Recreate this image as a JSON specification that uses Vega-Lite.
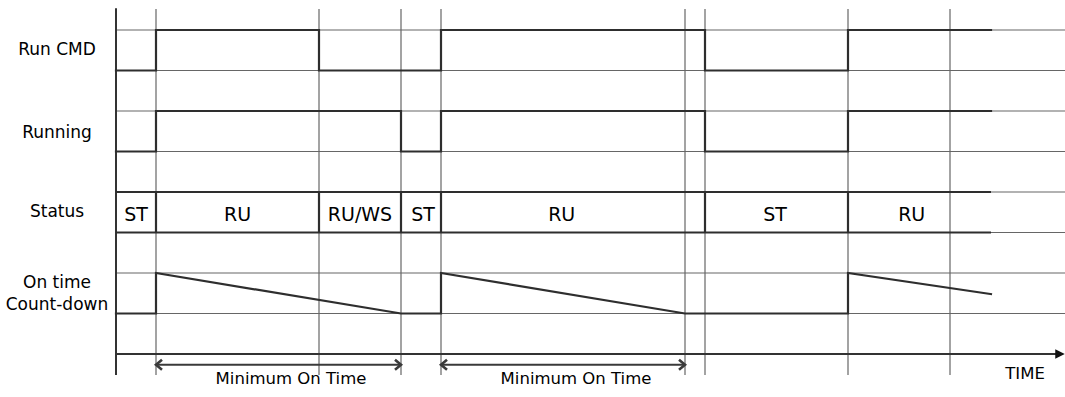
{
  "$schema": "https://vega.github.io/schema/vega-lite/v6.json",
  "width": 1065,
  "height": 397,
  "padding": 0,
  "autosize": "none",
  "background": "white",
  "config": {"view": {"stroke": null}, "font": "DejaVu Sans"},
  "datasets": {
    "gridV": [{"v": 1}, {"v": 2}, {"v": 3}, {"v": 4}, {"v": 5}, {"v": 6}, {"v": 7}, {"v": 8}],
    "gridT": [{"t": 40}, {"t": 203}, {"t": 285}, {"t": 325}, {"t": 569}, {"t": 589}, {"t": 732}, {"t": 834}],
    "axes": [
      {"axis": "value", "t0": 0, "t1": 0, "v0": -0.52, "v1": 8.54},
      {"axis": "time", "t0": 0, "t1": 941, "v0": 0, "v1": 0}
    ],
    "timeAxis": [{"label": "TIME", "head": 944, "v": 0, "labelT": 909, "labelV": -0.62}],
    "signals": [
      {"sig": "Run CMD", "i": 0, "t": 0, "v": 7},
      {"sig": "Run CMD", "i": 1, "t": 40, "v": 7},
      {"sig": "Run CMD", "i": 2, "t": 40, "v": 8},
      {"sig": "Run CMD", "i": 3, "t": 203, "v": 8},
      {"sig": "Run CMD", "i": 4, "t": 203, "v": 7},
      {"sig": "Run CMD", "i": 5, "t": 325, "v": 7},
      {"sig": "Run CMD", "i": 6, "t": 325, "v": 8},
      {"sig": "Run CMD", "i": 7, "t": 589, "v": 8},
      {"sig": "Run CMD", "i": 8, "t": 589, "v": 7},
      {"sig": "Run CMD", "i": 9, "t": 732, "v": 7},
      {"sig": "Run CMD", "i": 10, "t": 732, "v": 8},
      {"sig": "Run CMD", "i": 11, "t": 875, "v": 8},
      {"sig": "Running", "i": 0, "t": 0, "v": 5},
      {"sig": "Running", "i": 1, "t": 40, "v": 5},
      {"sig": "Running", "i": 2, "t": 40, "v": 6},
      {"sig": "Running", "i": 3, "t": 285, "v": 6},
      {"sig": "Running", "i": 4, "t": 285, "v": 5},
      {"sig": "Running", "i": 5, "t": 325, "v": 5},
      {"sig": "Running", "i": 6, "t": 325, "v": 6},
      {"sig": "Running", "i": 7, "t": 589, "v": 6},
      {"sig": "Running", "i": 8, "t": 589, "v": 5},
      {"sig": "Running", "i": 9, "t": 732, "v": 5},
      {"sig": "Running", "i": 10, "t": 732, "v": 6},
      {"sig": "Running", "i": 11, "t": 875, "v": 6},
      {"sig": "Count-down", "i": 0, "t": 0, "v": 1},
      {"sig": "Count-down", "i": 1, "t": 40, "v": 1},
      {"sig": "Count-down", "i": 2, "t": 40, "v": 2},
      {"sig": "Count-down", "i": 3, "t": 285, "v": 1},
      {"sig": "Count-down", "i": 4, "t": 325, "v": 1},
      {"sig": "Count-down", "i": 5, "t": 325, "v": 2},
      {"sig": "Count-down", "i": 6, "t": 569, "v": 1},
      {"sig": "Count-down", "i": 7, "t": 732, "v": 1},
      {"sig": "Count-down", "i": 8, "t": 732, "v": 2},
      {"sig": "Count-down", "i": 9, "t": 875, "v": 1.48}
    ],
    "status": [
      {"label": "ST", "start": 0, "end": 40, "at": 20},
      {"label": "RU", "start": 40, "end": 203, "at": 121.5},
      {"label": "RU/WS", "start": 203, "end": 285, "at": 244},
      {"label": "ST", "start": 285, "end": 325, "at": 307},
      {"label": "RU", "start": 325, "end": 589, "at": 445.7},
      {"label": "ST", "start": 589, "end": 732, "at": 659},
      {"label": "RU", "start": 732, "end": 875, "at": 795.7}
    ],
    "rows": [
      {"label": "Run CMD", "v": 7.38},
      {"label": "Running", "v": 5.34},
      {"label": "Status", "v": 3.39},
      {"label": "On time", "v": 1.62},
      {"label": "Count-down", "v": 1.09}
    ],
    "spans": [
      {"label": "Minimum On Time", "start": 40, "end": 285, "at": 175},
      {"label": "Minimum On Time", "start": 325, "end": 569, "at": 460}
    ]
  },
  "layer": [
    {
      "data": {"name": "gridV"},
      "mark": {"type": "rule", "stroke": "#666666", "strokeWidth": 1.2},
      "encoding": {
        "y": {"field": "v", "type": "quantitative", "scale": {"domain": [-1.062, 8.741], "nice": false, "zero": false}, "axis": null},
        "x": {"datum": 0, "type": "quantitative", "scale": {"domain": [-116, 949], "nice": false, "zero": false}, "axis": null},
        "x2": {"datum": 949}
      }
    },
    {
      "data": {"name": "gridT"},
      "mark": {"type": "rule", "stroke": "#666666", "strokeWidth": 1.2},
      "encoding": {
        "x": {"field": "t", "type": "quantitative"},
        "y": {"datum": 8.519, "type": "quantitative"},
        "y2": {"datum": -0.519}
      }
    },
    {
      "data": {"name": "axes"},
      "mark": {"type": "rule", "stroke": "#333333", "strokeWidth": 2},
      "encoding": {
        "x": {"field": "t0", "type": "quantitative"},
        "x2": {"field": "t1"},
        "y": {"field": "v0", "type": "quantitative"},
        "y2": {"field": "v1"}
      }
    },
    {
      "data": {"name": "timeAxis"},
      "mark": {"type": "point", "shape": "M-1,-1L1,0L-1,1Z", "filled": true, "color": "#111111", "size": 90, "opacity": 1},
      "encoding": {
        "x": {"field": "head", "type": "quantitative"},
        "y": {"field": "v", "type": "quantitative"}
      }
    },
    {
      "data": {"name": "timeAxis"},
      "mark": {"type": "text", "fontSize": 16.5, "align": "center", "baseline": "alphabetic", "color": "#000000"},
      "encoding": {
        "x": {"field": "labelT", "type": "quantitative"},
        "y": {"field": "labelV", "type": "quantitative"},
        "text": {"field": "label"}
      }
    },
    {
      "data": {"name": "status"},
      "mark": {"type": "rule", "stroke": "#2e2e2e", "strokeWidth": 2.2},
      "encoding": {
        "x": {"field": "start", "type": "quantitative"},
        "x2": {"field": "end"},
        "y": {"datum": 4, "type": "quantitative"}
      }
    },
    {
      "data": {"name": "status"},
      "mark": {"type": "rule", "stroke": "#2e2e2e", "strokeWidth": 2.2},
      "encoding": {
        "x": {"field": "start", "type": "quantitative"},
        "x2": {"field": "end"},
        "y": {"datum": 3, "type": "quantitative"}
      }
    },
    {
      "data": {"name": "status"},
      "transform": [{"filter": "datum.start > 0"}],
      "mark": {"type": "rule", "stroke": "#2e2e2e", "strokeWidth": 2.2},
      "encoding": {
        "x": {"field": "start", "type": "quantitative"},
        "y": {"datum": 3, "type": "quantitative"},
        "y2": {"datum": 4}
      }
    },
    {
      "data": {"name": "status"},
      "mark": {"type": "text", "fontSize": 19, "align": "center", "baseline": "alphabetic", "color": "#000000"},
      "encoding": {
        "x": {"field": "at", "type": "quantitative"},
        "y": {"datum": 3.29, "type": "quantitative"},
        "text": {"field": "label"}
      }
    },
    {
      "data": {"name": "signals"},
      "mark": {"type": "line", "stroke": "#2e2e2e", "strokeWidth": 2.2, "strokeCap": "square"},
      "encoding": {
        "x": {"field": "t", "type": "quantitative"},
        "y": {"field": "v", "type": "quantitative"},
        "detail": {"field": "sig"},
        "order": {"field": "i", "type": "quantitative"}
      }
    },
    {
      "data": {"name": "rows"},
      "mark": {"type": "text", "fontSize": 17, "align": "center", "baseline": "alphabetic", "color": "#000000"},
      "encoding": {
        "x": {"datum": -59, "type": "quantitative"},
        "y": {"field": "v", "type": "quantitative"},
        "text": {"field": "label"}
      }
    },
    {
      "data": {"name": "spans"},
      "mark": {"type": "rule", "stroke": "#3a3a3a", "strokeWidth": 2},
      "encoding": {
        "x": {"field": "start", "type": "quantitative"},
        "x2": {"field": "end"},
        "y": {"datum": -0.264, "type": "quantitative"}
      }
    },
    {
      "data": {"name": "spans"},
      "mark": {"type": "point", "shape": "M1.2,-1L0,0L1.2,1", "filled": false, "stroke": "#3a3a3a", "strokeWidth": 2.6, "size": 100, "opacity": 1},
      "encoding": {
        "x": {"field": "start", "type": "quantitative"},
        "y": {"datum": -0.264, "type": "quantitative"}
      }
    },
    {
      "data": {"name": "spans"},
      "mark": {"type": "point", "shape": "M-1.2,-1L0,0L-1.2,1", "filled": false, "stroke": "#3a3a3a", "strokeWidth": 2.6, "size": 100, "opacity": 1},
      "encoding": {
        "x": {"field": "end", "type": "quantitative"},
        "y": {"datum": -0.264, "type": "quantitative"}
      }
    },
    {
      "data": {"name": "spans"},
      "mark": {"type": "text", "fontSize": 16.5, "align": "center", "baseline": "alphabetic", "color": "#000000"},
      "encoding": {
        "x": {"field": "at", "type": "quantitative"},
        "y": {"datum": -0.75, "type": "quantitative"},
        "text": {"field": "label"}
      }
    }
  ]
}
